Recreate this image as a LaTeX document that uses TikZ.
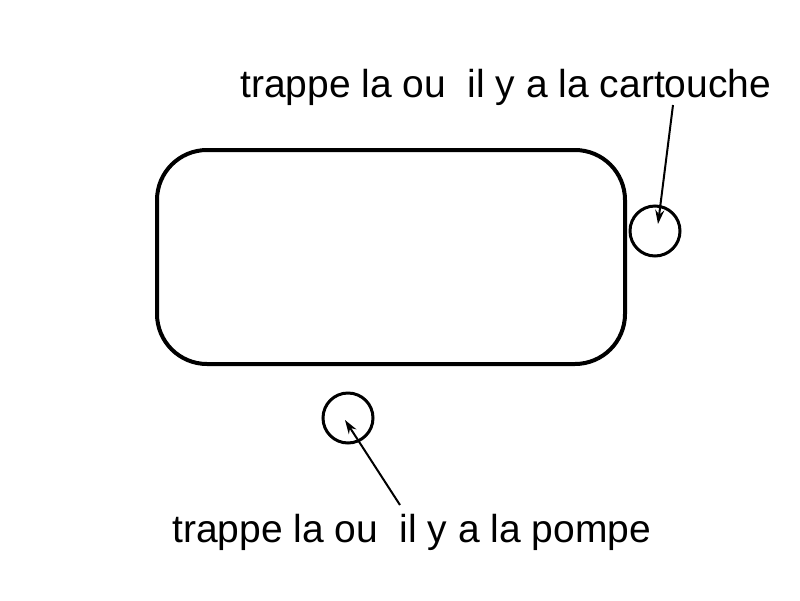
\documentclass[tikz,border=0pt]{standalone}
\usepackage{fontspec}
\setmainfont{Liberation Sans}
\usetikzlibrary{arrows.meta}
\begin{document}
\begin{tikzpicture}[x=1pt,y=-1pt,
  label text/.style={anchor=base west, inner sep=0pt, font=\fontsize{39}{47}\selectfont},
  outline/.style={draw=black, line width=4pt},
  hatch/.style={draw=black, line width=3pt},
  pointer/.style={draw=black, line width=2pt, -{Stealth[length=14pt,width=9pt]}}]
\useasboundingbox[fill=white] (0,0) rectangle (800,600);
\node[outline, rounded corners=50pt, minimum width=468pt, minimum height=214pt, anchor=north west] (box) at (155,148) {};
\node[hatch, circle, minimum size=50pt, inner sep=0pt] (c1) at (655,231) {};
\node[hatch, circle, minimum size=50pt, inner sep=0pt] (c2) at (348,418) {};
\node[label text] (t1) at (240,97) {trappe la ou\ \ il y a la cartouche};
\node[label text] (t2) at (172,542) {trappe la ou\ \ il y a la pompe};
\coordinate (s1) at (673,105);
\coordinate (e1) at (658,224);
\coordinate (s2) at (400,505);
\coordinate (e2) at (345,420);
\draw[pointer] (s1) -- (e1);
\draw[pointer] (s2) -- (e2);
\end{tikzpicture}
\end{document}
